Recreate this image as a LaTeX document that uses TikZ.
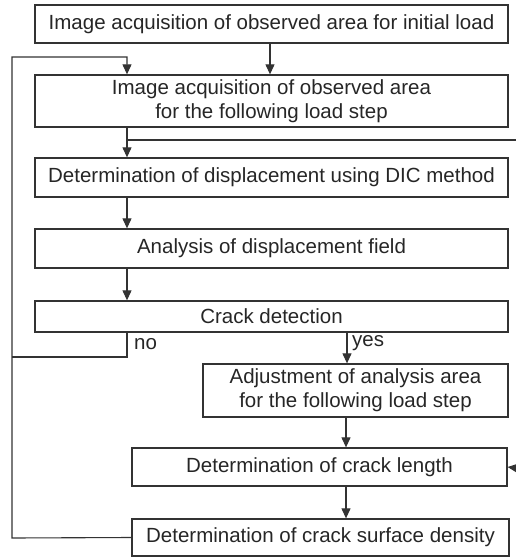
\documentclass[tikz,border=0pt]{standalone}
\usepackage{fontspec}
\setmainfont{Liberation Sans}
\usetikzlibrary{arrows.meta, positioning}

\definecolor{linegray}{HTML}{333333}

\begin{document}
\begin{tikzpicture}[x=1pt, y=-1pt, >={Triangle[length=10pt, width=9pt]},
    box/.style={draw=linegray, line width=1.3pt, text=black!85, align=center,
        font=\fontsize{20.5}{24}\selectfont, inner sep=0pt},
    link/.style={draw=linegray, line width=1.1pt},
    lbl/.style={font=\fontsize{20.5}{24}\selectfont, text=black!85, inner sep=0pt}]
    \useasboundingbox (0,0) rectangle (516,557);

    % Kästen
    \node[box, minimum width=473pt, minimum height=38pt] (init) at (271.5,24) {Image acquisition of observed area for initial load};
    \node[box, minimum width=473pt, minimum height=52pt] (acq) at (271.5,101) {Image acquisition of observed area\\for the following load step};
    \node[box, minimum width=473pt, minimum height=39pt] (dic) at (271.5,177.5) {Determination of displacement using DIC method};
    \node[box, minimum width=473pt, minimum height=39pt] (field) at (271.5,248.5) {Analysis of displacement field};
    \node[box, minimum width=473pt, minimum height=31pt] (crack) at (271.5,316.5) {Crack detection};
    \node[box, minimum width=305pt, minimum height=53pt] (adjust) at (355.5,390.5) {Adjustment of analysis area\\for the following load step};
    \node[box, minimum width=375pt, minimum height=38pt] (length) at (319.5,467) {Determination of crack length};
    \node[box, minimum width=377pt, minimum height=37pt] (density) at (320.5,537.5) {Determination of crack surface density};

    % Hilfspunkte
    \coordinate (loopbot) at (12,538);
    \coordinate (looptop) at (12,57);
    \coordinate (nocorner) at (12,357);
    \coordinate (rightout) at (516,140);
    \coordinate (rightin) at (516,468);

    % Pfeile
    \draw[link, ->] (270,0 |- init.south) -- (270,0 |- acq.north);
    \draw[link, ->] (density.west) -- (loopbot) -- (looptop) -- (127,57) -- (127,0 |- acq.north);
    \draw[link, ->] (127,0 |- acq.south) -- (127,0 |- dic.north);
    \draw[link] (127,140) -- (rightout);
    \draw[link, ->] (127,0 |- dic.south) -- (127,0 |- field.north);
    \draw[link, ->] (127,0 |- field.south) -- (127,0 |- crack.north);
    \draw[link] (127,0 |- crack.south) -- (127,357) -- (nocorner);
    \node[lbl, anchor=north west] (no) at (134,338) {no};
    \draw[link, ->] (347,0 |- crack.south) -- (347,0 |- adjust.north);
    \node[lbl, anchor=north west] (yes) at (352,335) {yes};
    \draw[link, ->] (346,0 |- adjust.south) -- (346,0 |- length.north);
    \draw[link, ->] (346,0 |- length.south) -- (346,0 |- density.north);
    \draw[link, ->] (rightin) -- (length.east);
\end{tikzpicture}
\end{document}
